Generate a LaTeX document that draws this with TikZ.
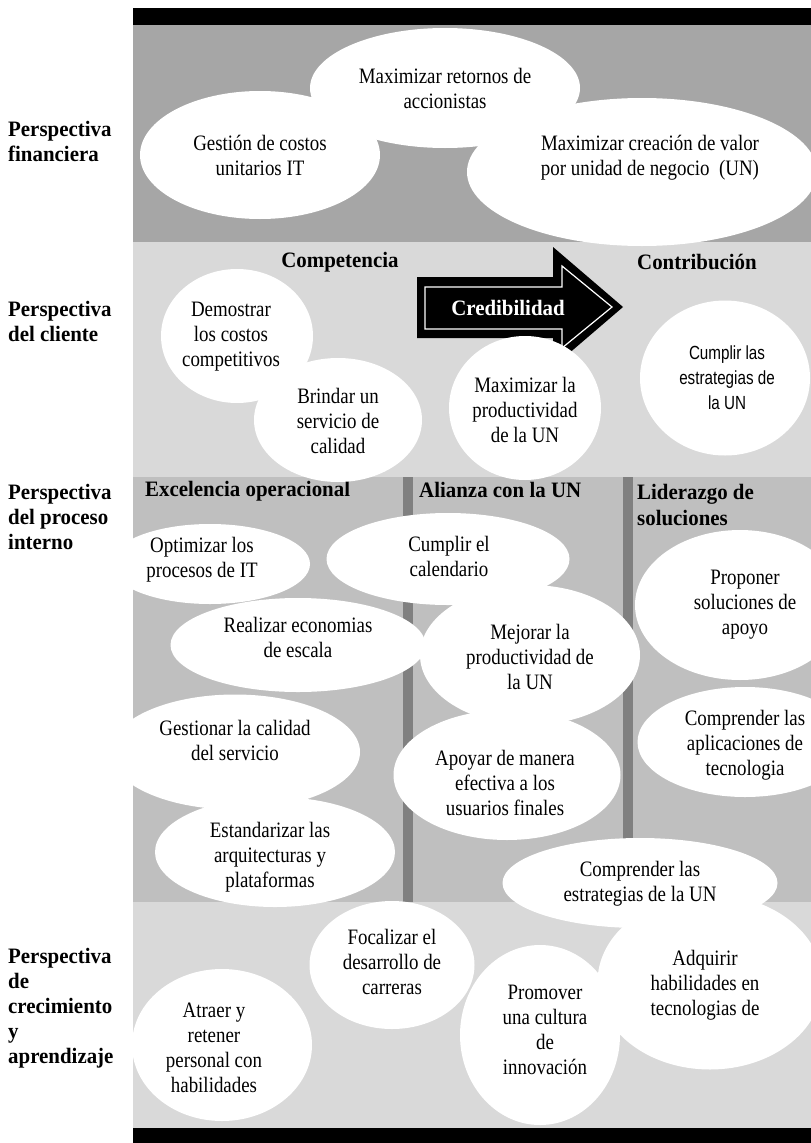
\documentclass[tikz,border=0pt]{standalone}
\usepackage{fontspec}
\setmainfont{Liberation Serif}[FakeStretch=0.86]
\newfontfamily\boldserif{Liberation Serif}[FakeStretch=0.95]
\newfontfamily\narrowsans{Liberation Sans}[FakeStretch=0.8]
\usetikzlibrary{shapes.geometric}
\definecolor{finband}{HTML}{A6A6A6}
\definecolor{cliband}{HTML}{D9D9D9}
\definecolor{intband}{HTML}{BFBFBF}
\definecolor{sepbar}{HTML}{808080}
\definecolor{lrnband}{HTML}{D9D9D9}
\tikzset{
  bubble/.style={ellipse, fill=white, inner sep=0pt},
  btext/.style={align=center, font=\fontsize{22}{25}\selectfont, inner sep=0pt},
  stext/.style={align=center, font=\narrowsans\fontsize{19}{25}\selectfont, inner sep=0pt},
  persp/.style={align=left, anchor=west, font=\boldserif\bfseries\fontsize{22}{25}\selectfont, inner sep=0pt},
  headtext/.style={font=\boldserif\bfseries\fontsize{22}{26}\selectfont, inner sep=0pt},
}
% name, cx, cy, w, h, tx, ty, text
\newcommand\bub[8]{%
  \node[bubble, minimum width=#4pt, minimum height=#5pt] (#1) at (#2,#3) {};
  \node[btext] (#1t) at (#6,#7) {#8};
}
\begin{document}
\begin{tikzpicture}[x=1pt,y=-1pt]
\useasboundingbox (0,0) rectangle (811,1143);
% bands
\fill[black] (133,8) rectangle (811,25);
\fill[finband] (133,25) rectangle (811,242);
\fill[cliband] (133,242) rectangle (811,477);
\fill[intband] (133,477) rectangle (811,902);
\fill[lrnband] (133,902) rectangle (811,1128);
\fill[black] (133,1128) rectangle (811,1143);
\fill[sepbar] (403,477) rectangle (413,902);
\fill[sepbar] (623,477) rectangle (633,902);
% perspective labels
\node[persp] (pfin) at (8,141) {Perspectiva\\financiera};
\node[persp] (pcli) at (8,321) {Perspectiva\\del cliente};
\node[persp] (pint) at (8,517) {Perspectiva\\del proceso\\interno};
\node[persp] (plrn) at (8,1008) {Perspectiva\\de\\crecimiento\\y\\aprendizaje};
% headers
\node[headtext] (hcomp) at (340,262) {Competencia};
\node[headtext] (hcont) at (697,262) {Contribución};
\node[headtext, anchor=west] (hexc) at (145,491) {Excelencia operacional};
\node[headtext, anchor=west] (hali) at (419,490) {Alianza con la UN};
\node[headtext, anchor=west, align=left] (hlid) at (637,505) {Liderazgo de\\soluciones};
\begin{scope}
\clip (133,25) rectangle (811,1128);
% financial
\bub{f1}{445}{88}{270}{120}{445}{88}{Maximizar retornos de\\accionistas}
\bub{f2}{260}{155}{240}{128}{260}{155}{Gestión de costos\\unitarios IT}
\bub{f3}{642}{172}{350}{148}{650}{158}{Maximizar creación de valor\\por unidad de negocio~ (UN)}
% client
\bub{c1}{237}{336}{152}{134}{231}{337}{Demostrar\\los costos\\competitivos}
\bub{c2}{338}{420}{168}{124}{338}{421}{Brindar un\\servicio de\\calidad}
% arrow
\fill[black] (417,277) -- (553,277) -- (553,247) -- (623,307) -- (553,367)
  -- (553,338) -- (417,338) -- cycle;
\draw[white, line width=1.2pt] (425,287) -- (562,287) -- (562,266) -- (612,307)
  -- (562,348) -- (562,329) -- (425,329) -- cycle;
\node[headtext, text=white] (cred) at (508,308) {Credibilidad};
\bub{c3}{525}{408}{152}{144}{525}{410}{Maximizar la\\productividad\\de la UN}
\node[bubble, minimum width=170pt, minimum height=155pt] (c4) at (725,378) {};
\node[stext] (c4t) at (727,378) {Cumplir las\\estrategias de\\la UN};
% internal
\bub{i1}{210}{564}{200}{80}{202}{560}{Optimizar los\\procesos de IT}
\bub{i2}{448}{559}{243}{92}{449}{556}{Cumplir el\\calendario}
\bub{i3}{298}{645}{255}{94}{298}{637}{Realizar economias\\de escala}
\bub{i4}{530}{655}{220}{140}{530}{657}{Mejorar la\\productividad de\\la UN}
\bub{i5}{740}{605}{210}{150}{745}{605}{Proponer\\soluciones de\\apoyo}
\bub{i6}{235}{752}{250}{115}{235}{740}{Gestionar la calidad\\del servicio}
\bub{i7}{507}{775}{227}{130}{505}{783}{Apoyar de manera\\efectiva a los\\usuarios finales}
\bub{i8}{745}{742}{215}{110}{745}{745}{Comprender las\\aplicaciones de\\tecnologia}
\bub{i9}{275}{852}{240}{110}{270}{857}{Estandarizar las\\arquitecturas y\\plataformas}
% learning
\bub{l1}{222}{1045}{180}{152}{214}{1048}{Atraer y\\retener\\personal con\\habilidades}
\bub{l2}{392}{965}{165}{128}{392}{962}{Focalizar el\\desarrollo de\\carreras}
\bub{l3}{540}{1035}{160}{180}{545}{1030}{Promover\\una cultura\\de\\innovación}
\bub{l4}{710}{982}{225}{175}{705}{985}{Adquirir\\habilidades en\\tecnologias de}
\bub{i10}{640}{883}{275}{90}{640}{884}{Comprender las\\estrategias de la UN}
\end{scope}
\end{tikzpicture}
\end{document}
